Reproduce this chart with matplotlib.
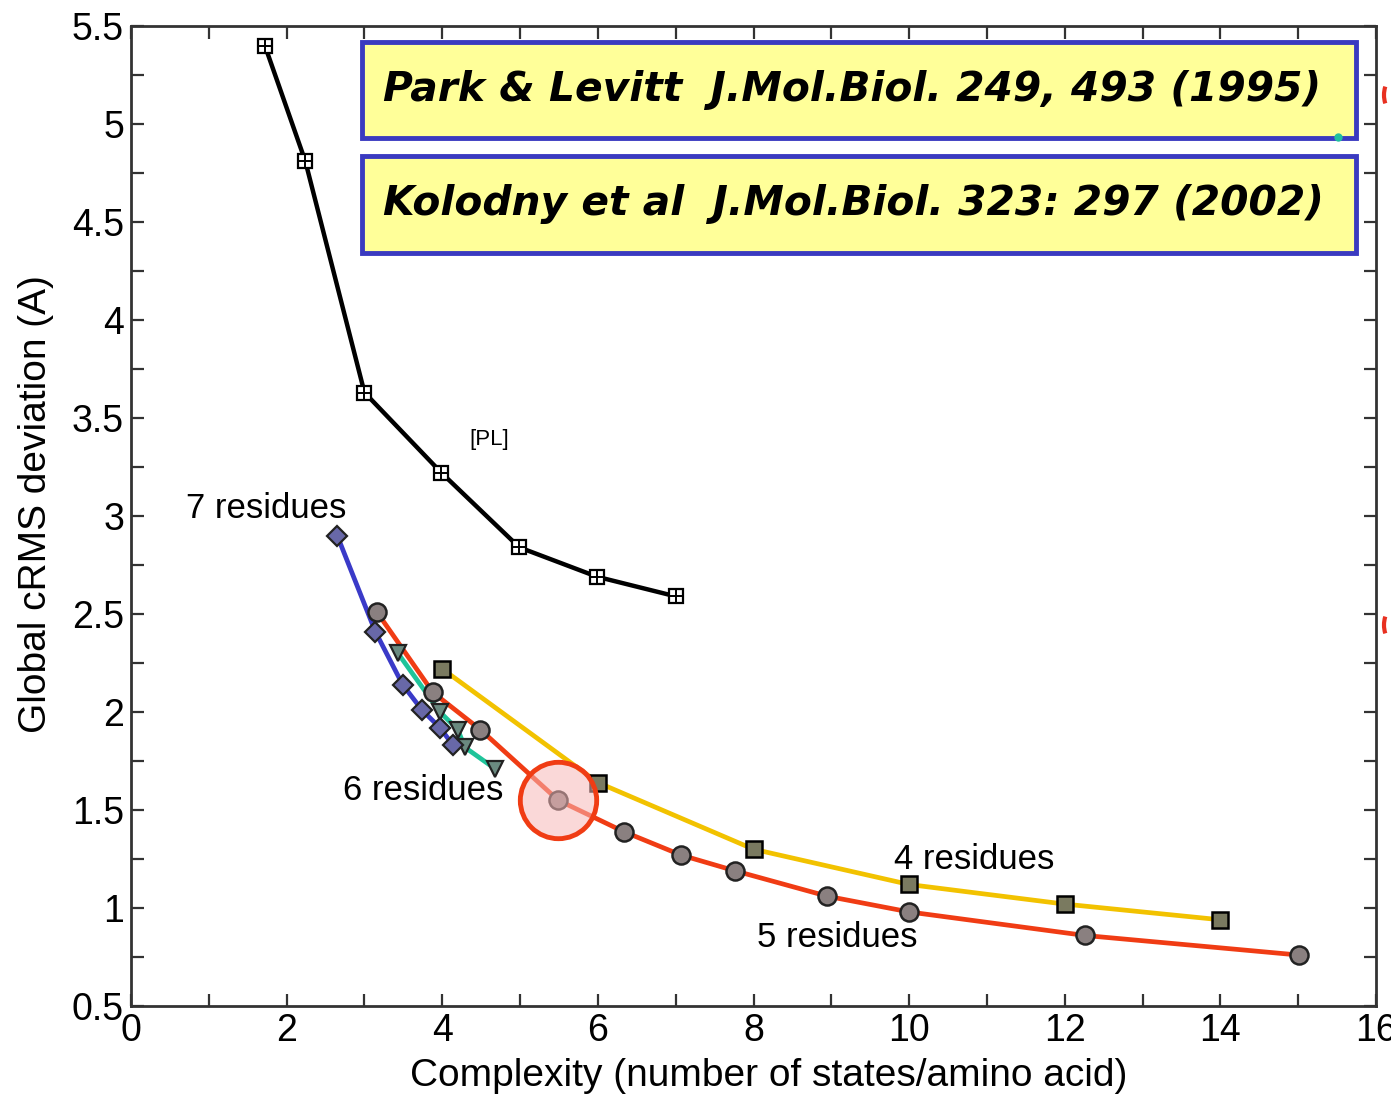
import matplotlib
matplotlib.use("Agg")
import matplotlib.pyplot as plt
from matplotlib.patches import Rectangle, Arc
from matplotlib.ticker import MultipleLocator

plt.rcParams['font.family'] = ['Liberation Sans', 'DejaVu Sans']

# Park & Levitt reference curve
pl_x = [1.72, 2.24, 3.0, 3.99, 4.99, 5.99, 7.0]
pl_y = [5.40, 4.81, 3.63, 3.22, 2.84, 2.69, 2.59]

# fragment libraries of different lengths
res7_x = [2.65, 3.14, 3.49, 3.74, 3.97, 4.14]
res7_y = [2.90, 2.41, 2.14, 2.01, 1.92, 1.83]

res6_x = [3.43, 3.97, 4.20, 4.29, 4.68]
res6_y = [2.30, 2.00, 1.91, 1.82, 1.71]

res5_x = [3.16, 3.88, 4.49, 5.49, 6.33, 7.07, 7.76, 8.95, 10.0, 12.26, 15.01]
res5_y = [2.51, 2.10, 1.91, 1.55, 1.39, 1.27, 1.19, 1.06, 0.98, 0.86, 0.76]

res4_x = [4, 6, 8, 10, 12, 14]
res4_y = [2.22, 1.64, 1.30, 1.12, 1.02, 0.94]

highlight_index = 3  # 5-residue library singled out

x_ticks = [0, 2, 4, 6, 8, 10, 12, 14, 16]
y_ticks = [0.5, 1, 1.5, 2, 2.5, 3, 3.5, 4, 4.5, 5, 5.5]

refs = ["Park & Levitt  J.Mol.Biol. 249, 493 (1995)",
        "Kolodny et al  J.Mol.Biol. 323: 297 (2002)"]

fig = plt.figure(figsize=(13.91, 10.96), dpi=100)
ax = fig.add_axes([0.0942, 0.0821, 0.8950, 0.8942])

ax.set_xlim(0, 16)
ax.set_ylim(0.5, 5.5)

# PL curve: squares with a cross inside
ax.plot(pl_x, pl_y, color='black', lw=3.2, zorder=3)
ax.plot(pl_x, pl_y, ls='none', marker='s', ms=10, mfc='white', mec='black',
        mew=1.6, zorder=4)
ax.plot(pl_x, pl_y, ls='none', marker='+', ms=10, mec='black', mew=1.4, zorder=5)

ax.plot(res4_x, res4_y, color='#F2C200', lw=3.4, zorder=3)
ax.plot(res4_x, res4_y, ls='none', marker='s', ms=11, mfc='#7a7a60', mec='black',
        mew=1.8, zorder=4)

ax.plot(res5_x, res5_y, color='#F03C14', lw=3.4, zorder=3)
ax.plot(res5_x, res5_y, ls='none', marker='o', ms=13, mfc='#8a8080', mec='#222222',
        mew=1.8, zorder=4)

ax.plot(res6_x, res6_y, color='#1FC49A', lw=3.4, zorder=3)
ax.plot(res6_x, res6_y, ls='none', marker='v', ms=12, mfc='#6a8a80', mec='#222222',
        mew=1.6, zorder=4)

ax.plot(res7_x, res7_y, color='#3A3AC8', lw=3.4, zorder=3)
ax.plot(res7_x, res7_y, ls='none', marker='D', ms=10, mfc='#6868A8', mec='#222222',
        mew=1.6, zorder=4)

# highlighted library
ax.plot(res5_x[highlight_index], res5_y[highlight_index], ls='none', marker='o',
        ms=55, mfc=(0.97, 0.72, 0.72, 0.55), mec='#F03C14', mew=3.5, zorder=6)

lab_kw = dict(fontsize=25, ha='center', va='center')
ax.text(1.74, 3.04, "7 residues", **lab_kw)
ax.text(3.75, 1.60, "6 residues", **lab_kw)
ax.text(10.84, 1.245, "4 residues", **lab_kw)
ax.text(9.07, 0.852, "5 residues", **lab_kw)
ax.text(4.6, 3.39, "[PL]", fontsize=16, ha='center', va='center')

ax.set_xticks(x_ticks)
ax.set_yticks(y_ticks)
ax.set_yticklabels([f"{v:g}" for v in y_ticks])
ax.xaxis.set_minor_locator(MultipleLocator(1))
ax.yaxis.set_minor_locator(MultipleLocator(0.25))
ax.tick_params(which='both', direction='in', top=True, right=True,
               length=9, width=1.6, color='#333333', labelsize=27, pad=5)
for s in ax.spines.values():
    s.set_linewidth(2)
    s.set_color('#333333')

ax.set_xlabel("Complexity (number of states/amino acid)", fontsize=28)
ax.set_ylabel("Global cRMS deviation (A)", fontsize=28)
ax.xaxis.set_label_coords(0.512, -0.053)
ax.yaxis.set_label_coords(-0.062, 0.512)

# citation boxes
W, H = 1391, 1096
for (top, bot), txt in zip([(42, 138), (156, 253)], refs):
    rect = Rectangle((362 / W, 1 - bot / H), 994 / W, (bot - top) / H,
                     transform=fig.transFigure, facecolor='#FFFF99',
                     edgecolor='#3A3AC0', lw=3.5, zorder=10)
    fig.add_artist(rect)
    fig.text(383 / W, 1 - (top + bot) / 2 / H, txt, fontsize=29.3,
             family='DejaVu Sans', style='italic', weight='bold',
             ha='left', va='center', zorder=11)

fig.add_artist(plt.Line2D([1338 / W], [1 - 137 / H], marker='o', ms=5,
                          color='#20C0A0', transform=fig.transFigure, zorder=12))

# partial red marks at the right edge
for yc in (95, 625):
    arc = Arc((1398 / W, 1 - yc / H), 28 / W, 40 / H, theta1=140, theta2=220,
              transform=fig.transFigure, color='#E83020', lw=3)
    fig.add_artist(arc)

fig.savefig("out.png", dpi=100)
